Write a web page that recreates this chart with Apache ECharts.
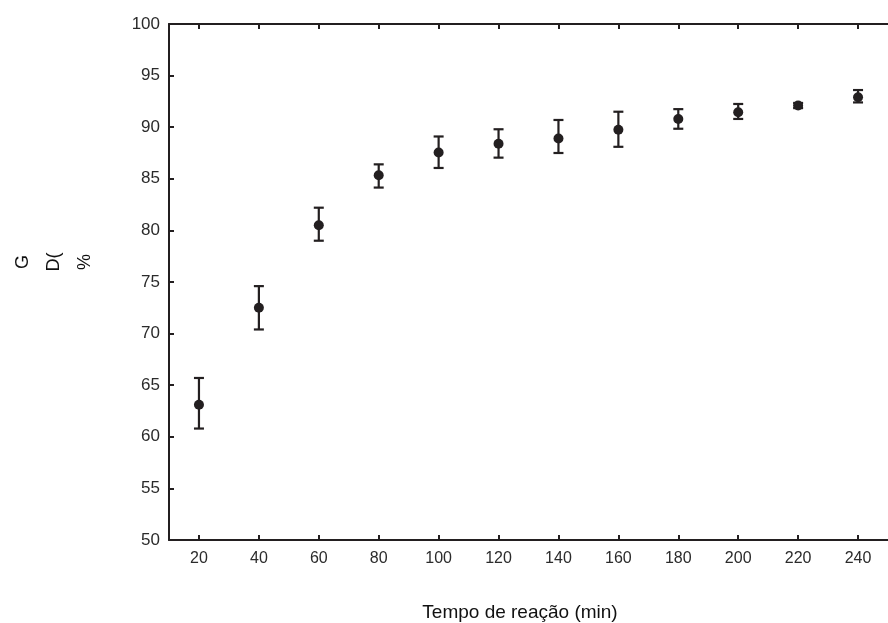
<!DOCTYPE html>
<html><head><meta charset="utf-8">
<script src="https://cdn.jsdelivr.net/npm/echarts@6/dist/echarts.min.js"></script>
<style>html,body{margin:0;padding:0;background:#fff}#c{width:888px;height:623px}</style>
</head><body><div id="c"></div>
<script>
const times = [20,40,60,80,100,120,140,160,180,200,220,240];
const means = [63.1,72.5,80.5,85.35,87.55,88.4,88.9,89.75,90.8,91.45,92.1,92.9];
const lows  = [60.8,70.4,79.0,84.15,86.05,87.05,87.5,88.1,89.85,90.8,91.85,92.4];
const highs = [65.7,74.6,82.2,86.4,89.1,89.8,90.7,91.5,91.75,92.25,92.35,93.6];
const xTicks = [20,40,60,80,100,120,140,160,180,200,220,240];
const yTicks = [50,55,60,65,70,75,80,85,90,95,100];

const ink = '#231f20';
const chart = echarts.init(document.getElementById('c'));
const axisCommon = {
  axisLine:{show:true,onZero:false,lineStyle:{color:ink,width:2}},
  axisTick:{show:true,inside:true,length:5,lineStyle:{color:ink,width:2}},
  splitLine:{show:false}
};
chart.setOption({
  animation:false,
  grid:{left:169,top:24,right:-7,bottom:83,containLabel:false},
  xAxis:[
    Object.assign({type:'value',position:'bottom',min:10,max:250,
      axisLabel:{customValues:xTicks,color:'#2b2b2b',fontSize:16,fontFamily:'Liberation Sans, Arial',margin:11},
    }, axisCommon, {axisTick:Object.assign({},axisCommon.axisTick,{customValues:xTicks})}),
    Object.assign({type:'value',position:'top',min:10,max:250,
      axisLabel:{show:false}
    }, axisCommon, {axisTick:Object.assign({},axisCommon.axisTick,{customValues:xTicks})})
  ],
  yAxis:Object.assign({type:'value',min:50,max:100,interval:5,
    axisLabel:{customValues:yTicks,color:'#2b2b2b',fontSize:17,fontFamily:'Liberation Sans, Arial',margin:9}
  }, axisCommon),
  graphic:[
    {type:'text',x:54,y:262,rotation:Math.PI/2,
      style:{text:'G\nD(\n%',fontSize:18,lineHeight:31,fontFamily:'Liberation Sans, Arial',fill:'#111',align:'center',verticalAlign:'middle'}},
    {type:'text',x:520,y:613,
      style:{text:'Tempo de reação (min)',fontSize:19,fontFamily:'Liberation Sans, Arial',fill:'#111',align:'center',verticalAlign:'middle'}}
  ],
  series:[
    {type:'custom',xAxisIndex:0,
      data:times.map((t,i)=>[t,lows[i],highs[i]]),
      renderItem:function(params,api){
        const x=api.value(0);
        const lo=api.coord([x,api.value(1)]);
        const hi=api.coord([x,api.value(2)]);
        const hw=5;
        const st={stroke:ink,lineWidth:2.2};
        return {type:'group',children:[
          {type:'line',shape:{x1:lo[0],y1:lo[1],x2:hi[0],y2:hi[1]},style:st},
          {type:'line',shape:{x1:lo[0]-hw,y1:lo[1],x2:lo[0]+hw,y2:lo[1]},style:st},
          {type:'line',shape:{x1:hi[0]-hw,y1:hi[1],x2:hi[0]+hw,y2:hi[1]},style:st}
        ]};
      },z:2},
    {type:'scatter',xAxisIndex:0,symbol:'circle',symbolSize:10,
      data:times.map((t,i)=>[t,means[i]]),
      itemStyle:{color:ink,opacity:1},z:3}
  ]
});
</script></body></html>
